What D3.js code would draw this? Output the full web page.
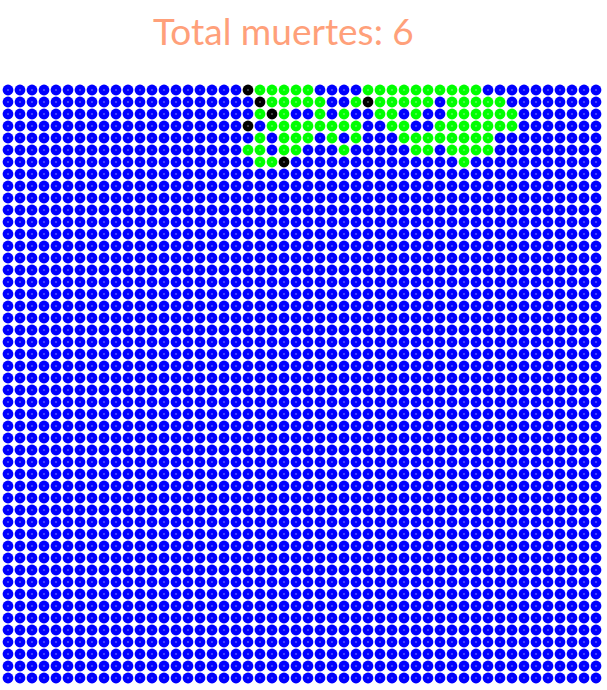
<!DOCTYPE html>
<html>

<head>
    <meta charset="utf-8">
    <style>
        body {
            margin: 0;
            background: #fff;
        }
    </style>
    <script src="https://cdn.jsdelivr.net/npm/d3@7/dist/d3.min.js"></script>
    <title>Total muertes</title>
</head>

<body>
    <div id="chart"></div>

    <script>
        // Grid size (filas x columnas)
        const filas = d3.range(50);
        const columnas = d3.range(50);

        // Infected cells [fila, columna]
        const infectados = [
            [0, 21], [0, 22], [0, 23], [0, 24], [0, 25], [0, 30], [0, 31], [0, 32], [0, 33], [0, 34], [0, 35], [0, 36], [0, 37], [0, 38], [0, 39],
            [1, 22], [1, 23], [1, 24], [1, 25], [1, 26], [1, 29], [1, 31], [1, 32], [1, 33], [1, 34], [1, 35], [1, 37], [1, 38], [1, 39], [1, 40], [1, 41],
            [2, 21], [2, 23], [2, 26], [2, 28], [2, 31], [2, 32], [2, 34], [2, 37], [2, 38], [2, 39], [2, 40], [2, 41], [2, 42],
            [3, 22], [3, 23], [3, 24], [3, 25], [3, 26], [3, 27], [3, 28], [3, 29], [3, 32], [3, 33], [3, 36], [3, 37], [3, 38], [3, 39], [3, 40], [3, 41], [3, 42],
            [4, 21], [4, 23], [4, 24], [4, 25], [4, 27], [4, 29], [4, 33], [4, 34], [4, 35], [4, 36], [4, 37], [4, 38], [4, 39], [4, 40],
            [5, 20], [5, 21], [5, 23], [5, 24], [5, 28], [5, 34], [5, 35], [5, 37], [5, 38], [5, 39], [5, 40],
            [6, 21], [6, 22], [6, 38]
        ];

        // Dead cells [fila, columna]
        const muertos = [[0, 20], [1, 21], [1, 30], [2, 22], [3, 20], [6, 23]];

        const estados = ["sano", "infectado", "muerto"];
        const colores = ["#0000ff", "#00ff00", "#000000"];

        const width = 607, height = 690;
        const svg = d3.select("#chart").append("svg")
            .attr("width", width)
            .attr("height", height);

        const x = d3.scaleBand().domain(columnas).range([2, 602]);
        const y = d3.scaleBand().domain(filas).range([84, 684]);
        const color = d3.scaleOrdinal().domain(estados).range(colores);

        // build cell list
        const estadoDe = new Map();
        infectados.forEach(([f, c]) => estadoDe.set(f + "," + c, "infectado"));
        muertos.forEach(([f, c]) => estadoDe.set(f + "," + c, "muerto"));

        const celdas = [];
        filas.forEach(f => columnas.forEach(c => {
            celdas.push({ f, c, estado: estadoDe.get(f + "," + c) || "sano" });
        }));

        const g = svg.append("g");
        g.selectAll("circle.celda")
            .data(celdas)
            .join("circle")
            .attr("class", "celda")
            .attr("cx", d => x(d.c) + x.bandwidth() / 2)
            .attr("cy", d => y(d.f) + y.bandwidth() / 2)
            .attr("r", 5.4)
            .attr("fill", d => color(d.estado));

        // small white dot in the middle of each circle
        g.selectAll("rect.punto")
            .data(celdas)
            .join("rect")
            .attr("class", "punto")
            .attr("x", d => Math.round(x(d.c) + x.bandwidth() / 2) - 0.5)
            .attr("y", d => Math.round(y(d.f) + y.bandwidth() / 2) - 0.5)
            .attr("width", 1)
            .attr("height", 1)
            .attr("fill", "#fff");

        // title
        svg.append("text")
            .attr("x", 153)
            .attr("y", 45)
            .attr("font-family", "Lato, 'Open Sans', sans-serif")
            .attr("font-size", 37)
            .attr("fill", "#ffa07a")
            .text("Total muertes: " + muertos.length);
    </script>
</body>

</html>
